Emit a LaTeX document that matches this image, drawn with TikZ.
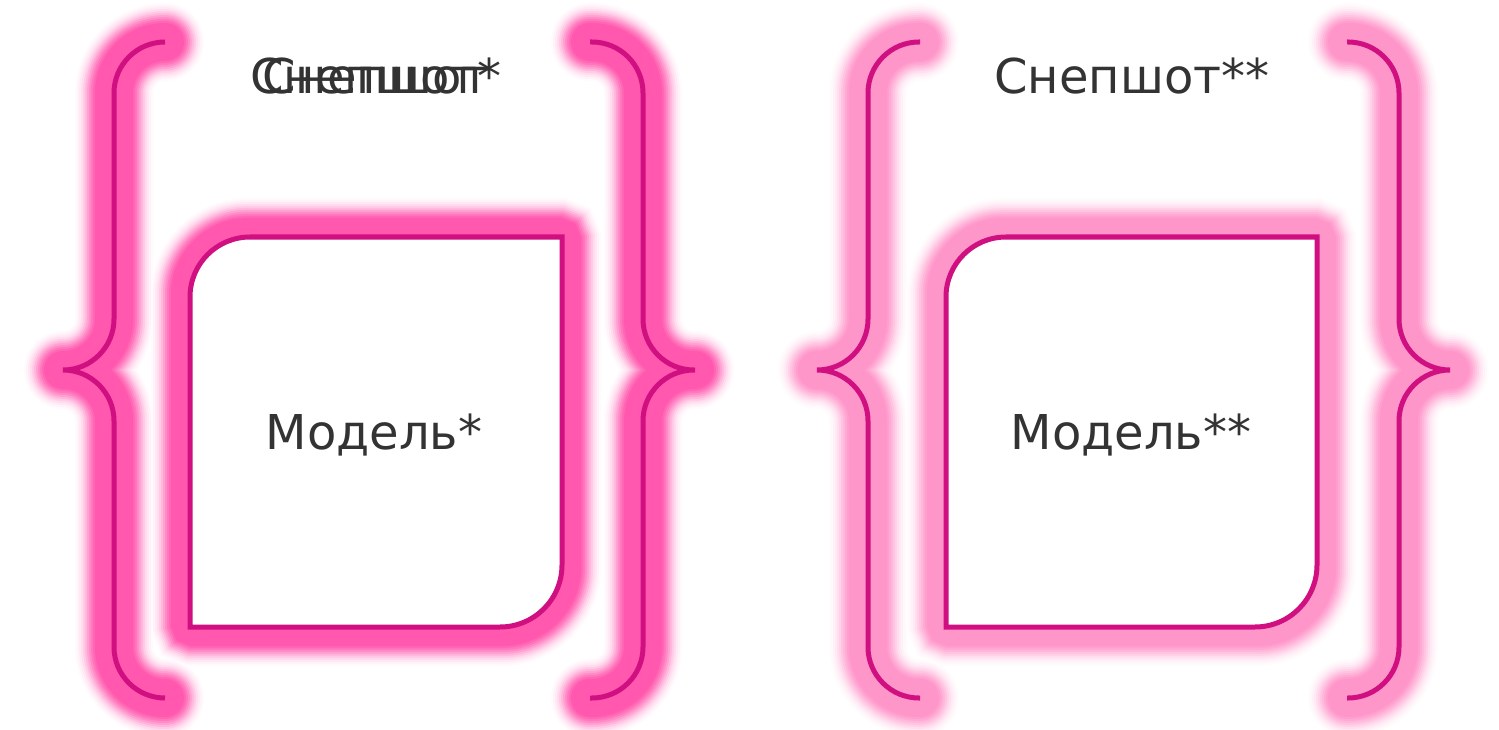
\documentclass[tikz,border=0pt]{standalone}
\usepackage{fontspec}
\setmainfont{DejaVu Sans}
\definecolor{strokepk}{RGB}{208,16,128}
\definecolor{glowA}{RGB}{255,88,174}
\definecolor{glowB}{RGB}{255,150,202}
\definecolor{txt}{RGB}{51,51,51}
\newcommand\snapBraces[5]{% #1 style, #2 end x, #3 vert x, #4 tip x
  \draw[#1] (#2,42) -| (#3,370) -- (#4,370) (#4,370) -- (#3,370) |- (#2,698);
}
\newcommand\modelBox[5]{% #1 style, #2 left, #3 right, #4 top, #5 bottom
  \path[#1] (#2,#5) -- (#2,#4+60) arc[start angle=180,end angle=270,radius=60]
     -- (#3,#4) -- (#3,#5-62) arc[start angle=0,end angle=90,radius=62] -- cycle;
}
\begin{document}
\begin{tikzpicture}[x=1pt,y=-1pt,
  strokeline/.style={draw=strokepk,line width=5pt,rounded corners=51},
  boxline/.style={draw=strokepk,fill=white,line width=5pt},
  lbl/.style={text=txt,font=\fontsize{48}{57}\selectfont,anchor=base,inner sep=0pt}]
\useasboundingbox (0,0) rectangle (1499,730);
% ---------- left group glow ----------
\foreach \w/\m in {78/3,74/7,70/13,66/21,62/31,58/43,54/56,50/69,46/81,42/91,38/100}{
  \snapBraces{line width=\w pt,draw=glowA!\m!white,line cap=round,rounded corners=51}{165}{114}{63}{}
  \snapBraces{line width=\w pt,draw=glowA!\m!white,line cap=round,rounded corners=51}{590}{643}{695}{}
  \modelBox{draw,line width=\w pt,draw=glowA!\m!white,rounded corners=4}{190}{562}{237}{627}
}
% ---------- right group glow ----------
\foreach \w/\m in {78/3,74/7,70/13,66/21,62/31,58/43,54/56,50/69,46/81,42/91,38/100}{
  \snapBraces{line width=\w pt,draw=glowB!\m!white,line cap=round,rounded corners=51}{920}{868}{817}{}
  \snapBraces{line width=\w pt,draw=glowB!\m!white,line cap=round,rounded corners=51}{1347}{1399}{1450}{}
  \modelBox{draw,line width=\w pt,draw=glowB!\m!white,rounded corners=4}{946}{1317}{237}{627}
}
% ---------- strokes ----------
\snapBraces{strokeline}{165}{114}{63}{}
\snapBraces{strokeline}{590}{643}{695}{}
\modelBox{boxline}{190}{562}{237}{627}
\snapBraces{strokeline}{920}{868}{817}{}
\snapBraces{strokeline}{1347}{1399}{1450}{}
\modelBox{boxline}{946}{1317}{237}{627}
% ---------- texts ----------
\node[lbl] (snapA1) at (376,94) {Снепшот};
\node[lbl] (snapA2) at (376,94) {Снепшот*};
\node[lbl] (snapB) at (1132,94) {Снепшот**};
\node[lbl] (modelA) at (374,449) {Модель*};
\node[lbl] (modelB) at (1131,449) {Модель**};
\end{tikzpicture}
\end{document}
